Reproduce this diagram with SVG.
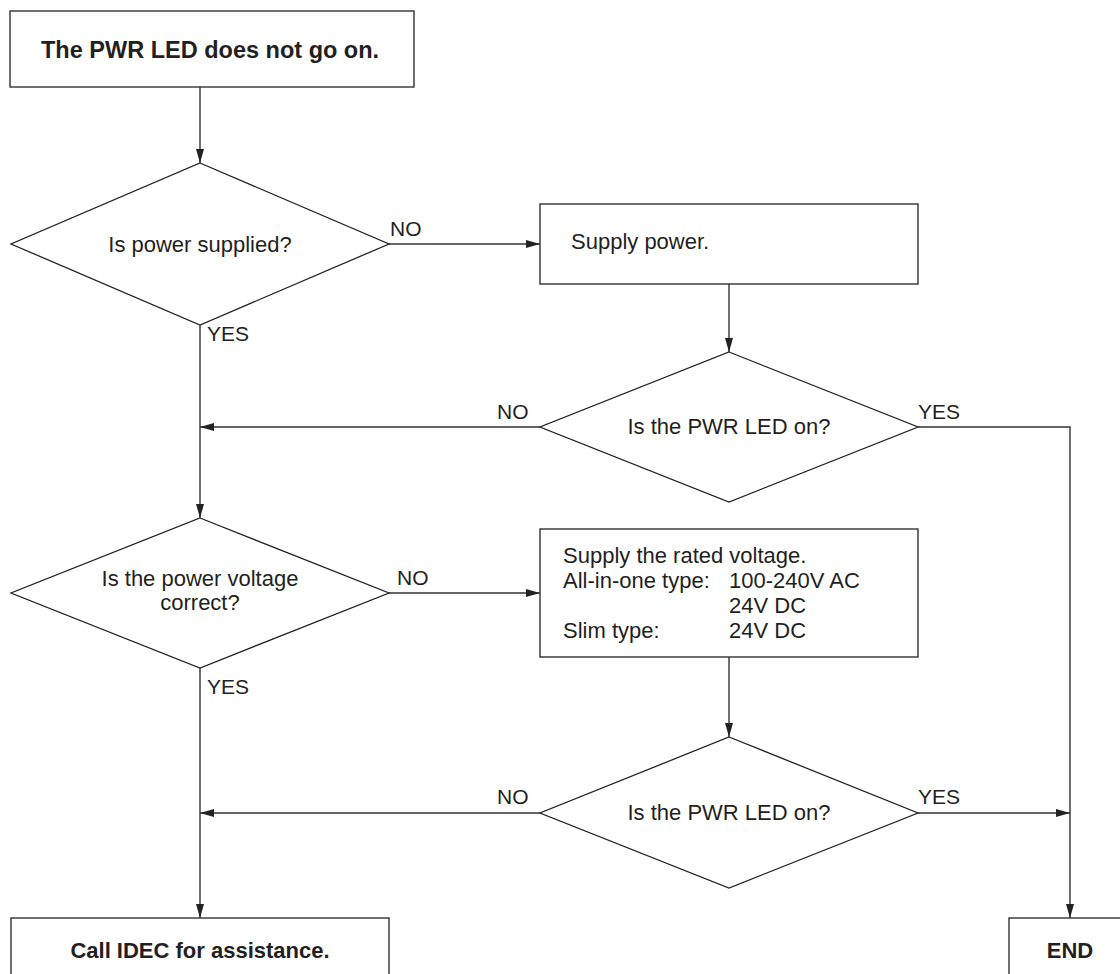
<svg xmlns="http://www.w3.org/2000/svg" width="1120" height="974" viewBox="0 0 1120 974">
<style>
.box{fill:#fff;stroke:#333;stroke-width:1.4}
.dia{fill:#fff;stroke:#222;stroke-width:1.3}
.ln{fill:none;stroke:#333;stroke-width:1.4}
.t{font-family:"Liberation Sans",Arial,sans-serif;font-size:22px;fill:#231f20}
.l{font-family:"Liberation Sans",Arial,sans-serif;font-size:21px;fill:#231f20}
.b{font-family:"Liberation Sans",Arial,sans-serif;font-size:22px;font-weight:bold;fill:#231f20}
.m{text-anchor:middle}
</style>
<defs>
<marker id="ah" markerWidth="14" markerHeight="8" refX="14" refY="4" orient="auto" markerUnits="userSpaceOnUse">
<path d="M0,0 L14,4 L0,8 Z" fill="#222"/>
</marker>
</defs>
<rect width="1120" height="974" fill="#fff"/>
<g id="connectors">
<line class="ln" x1="200" y1="87" x2="200" y2="163" marker-end="url(#ah)"/>
<line class="ln" x1="389" y1="244" x2="540" y2="244" marker-end="url(#ah)"/>
<line class="ln" x1="729" y1="284" x2="729" y2="352" marker-end="url(#ah)"/>
<line class="ln" x1="200" y1="325" x2="200" y2="518" marker-end="url(#ah)"/>
<line class="ln" x1="540" y1="427" x2="200" y2="427" marker-end="url(#ah)"/>
<polyline class="ln" points="918,427 1070,427 1070,918" marker-end="url(#ah)"/>
<line class="ln" x1="389" y1="593" x2="540" y2="593" marker-end="url(#ah)"/>
<line class="ln" x1="729" y1="657" x2="729" y2="737" marker-end="url(#ah)"/>
<line class="ln" x1="200" y1="668" x2="200" y2="918" marker-end="url(#ah)"/>
<line class="ln" x1="540" y1="813" x2="200" y2="813" marker-end="url(#ah)"/>
<line class="ln" x1="918" y1="813" x2="1070" y2="813" marker-end="url(#ah)"/>
<text class="l" x="390" y="236">NO</text>
<text class="l" x="207" y="341">YES</text>
<text class="l" x="497" y="419">NO</text>
<text class="l" x="918" y="419">YES</text>
<text class="l" x="397" y="585">NO</text>
<text class="l" x="207" y="694">YES</text>
<text class="l" x="497" y="804">NO</text>
<text class="l" x="918" y="804">YES</text>
</g>
<g id="start">
<rect class="box" x="10" y="11" width="404" height="76"/>
<text class="b" x="41" y="58" style="font-size:23.5px">The PWR LED does not go on.</text>
</g>
<g id="d-power">
<polygon class="dia" points="200,163 389,244 200,325 11,244"/>
<text class="t m" x="200" y="252">Is power supplied?</text>
</g>
<g id="supply-power">
<rect class="box" x="540" y="204" width="378" height="80"/>
<text class="t" x="571" y="249">Supply power.</text>
</g>
<g id="d-led1">
<polygon class="dia" points="729,352 918,427 729,502 540,427"/>
<text class="t m" x="729" y="434">Is the PWR LED on?</text>
</g>
<g id="d-voltage">
<polygon class="dia" points="200,518 389,593 200,668 11,593"/>
<text class="t m" x="200" y="586">Is the power voltage</text>
<text class="t m" x="200" y="610">correct?</text>
</g>
<g id="supply-voltage">
<rect class="box" x="540" y="529" width="378" height="128"/>
<text class="t" x="563" y="563">Supply the rated voltage.</text>
<text class="t" x="563" y="588">All-in-one type:</text>
<text class="t" x="729" y="588">100-240V AC</text>
<text class="t" x="729" y="613">24V DC</text>
<text class="t" x="563" y="638">Slim type:</text>
<text class="t" x="729" y="638">24V DC</text>
</g>
<g id="d-led2">
<polygon class="dia" points="729,737 918,813 729,888 540,813"/>
<text class="t m" x="729" y="820">Is the PWR LED on?</text>
</g>
<g id="call">
<rect class="box" x="11" y="918" width="378" height="70"/>
<text class="b m" x="200" y="958">Call IDEC for assistance.</text>
</g>
<g id="end">
<rect class="box" x="1009" y="918" width="130" height="70"/>
<text class="b m" x="1070" y="958">END</text>
</g>
</svg>
